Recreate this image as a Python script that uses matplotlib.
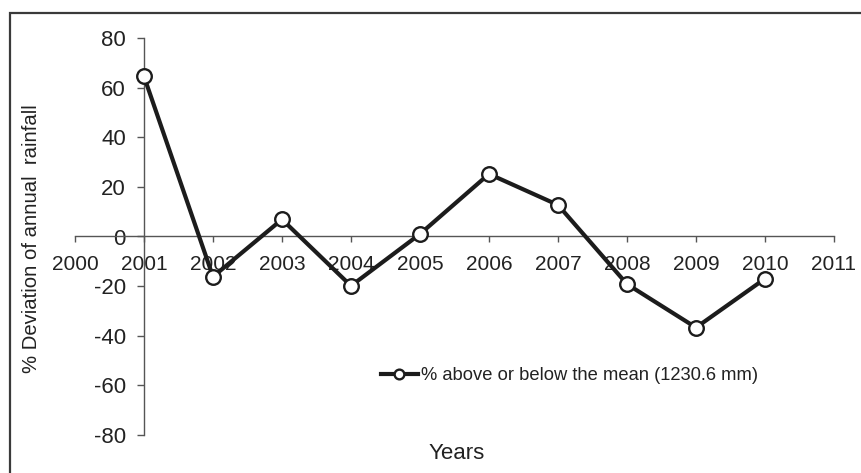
import matplotlib
matplotlib.use("Agg")
import matplotlib.pyplot as plt
from matplotlib.patches import Rectangle

# data
years = [2001, 2002, 2003, 2004, 2005, 2006, 2007, 2008, 2009, 2010]
deviation = [64.5, -16.2, 6.9, -19.9, 1.0, 25.2, 12.7, -19.2, -36.7, -17.0]
xticks = list(range(2000, 2012))
yticks = [-80, -60, -40, -20, 0, 20, 40, 60, 80]

plt.rcParams['font.family'] = ['Liberation Sans', 'DejaVu Sans']
plt.rcParams['axes.unicode_minus'] = False

fig = plt.figure(figsize=(8.62, 4.73), dpi=100)
# outer frame (only top and left edge show in the original)
fig.patches.append(Rectangle((10 / 862, -0.1), 1.2, 1.1 - 13 / 473, transform=fig.transFigure,
                             fill=False, edgecolor='#3a3a3a', linewidth=1.6))

ax = fig.add_axes([75 / 862, 38 / 473, 759 / 862, 397 / 473])
ax.plot(years, deviation, color='#1c1c1c', linewidth=3.0, marker='o', markersize=10.5,
        markerfacecolor='white', markeredgecolor='#1c1c1c', markeredgewidth=1.7,
        label='% above or below the mean (1230.6 mm)', zorder=3)

ax.set_xlim(2000, 2011)
ax.set_ylim(-80, 80)
ax.set_xticks(xticks)
ax.set_yticks(yticks)

ax.spines['right'].set_visible(False)
ax.spines['top'].set_visible(False)
ax.spines['left'].set_position(('data', 2001))
ax.spines['bottom'].set_position(('data', 0))
for s in ['left', 'bottom']:
    ax.spines[s].set_color('#555555')
    ax.spines[s].set_linewidth(1.0)

ax.tick_params(axis='x', direction='out', length=4, width=1, color='#555555',
               labelsize=15, pad=9, labelcolor='#222222')
ax.tick_params(axis='y', direction='out', length=5, width=1, color='#555555',
               labelsize=16, pad=8, labelcolor='#222222')

fig.text(457 / 862, 1 - 453 / 473, 'Years', ha='center', va='center', fontsize=16, color='#222222')
fig.text(32 / 862, 1 - 239 / 473, '% Deviation of annual  rainfall', ha='center', va='center',
         rotation=90, fontsize=14.6, color='#222222')

leg = ax.legend(loc='upper left', bbox_to_anchor=(372 / 862, 1 - 358 / 473),
                bbox_transform=fig.transFigure, frameon=False, fontsize=13.2,
                handlelength=2.0, handletextpad=0.2, borderpad=0, labelcolor='#222222')
for h in leg.legend_handles:
    h.set_markersize(7)

fig.savefig('out.png', dpi=100)
